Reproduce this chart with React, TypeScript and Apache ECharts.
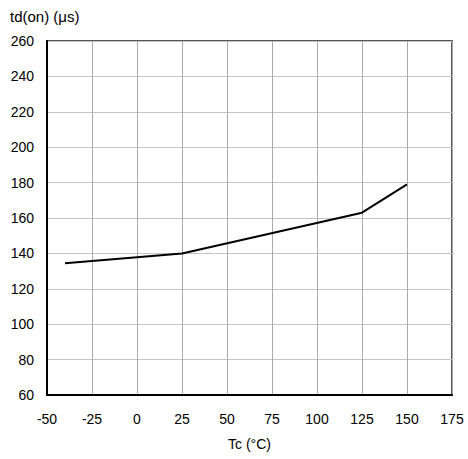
import React, { useEffect, useRef } from "react";
import * as echarts from "echarts";

const tempC = [-40, 25, 125, 150];
const tdOn = [134.5, 140, 163, 179];
const xTicks = [-50, -25, 0, 25, 50, 75, 100, 125, 150, 175];
const yTicks = [60, 80, 100, 120, 140, 160, 180, 200, 220, 240, 260];

const FONT = "'Liberation Sans', Arial, sans-serif";

export default function App() {
  const ref = useRef<HTMLDivElement>(null);
  useEffect(() => {
    if (!ref.current) return;
    const chart = echarts.init(ref.current, null, { renderer: "svg" });
    chart.setOption({
      animation: false,
      backgroundColor: "#fff",
      textStyle: { fontFamily: FONT },
      grid: {
        left: 47,
        right: 16,
        top: 41,
        bottom: 64,
        show: true,
        borderColor: "#555",
        borderWidth: 2,
        backgroundColor: "transparent",
      },
      graphic: [
        {
          type: "text",
          left: 10,
          top: 9,
          style: { text: "td(on) (μs)", fontSize: 15, fontFamily: FONT, fill: "#000" },
        },
      ],
      xAxis: {
        type: "value",
        min: xTicks[0],
        max: xTicks[xTicks.length - 1],
        interval: 25,
        name: "Tc (°C)",
        nameLocation: "middle",
        nameGap: 42,
        nameTextStyle: { fontSize: 14, color: "#000", fontFamily: FONT },
        axisLine: { show: true, onZero: false, lineStyle: { color: "#000", width: 2 } },
        axisTick: { show: false },
        axisLabel: { fontSize: 14, color: "#000", margin: 17, fontFamily: FONT },
        splitLine: { show: true, lineStyle: { color: "#aaa", width: 1 } },
      },
      yAxis: {
        type: "value",
        min: yTicks[0],
        max: yTicks[yTicks.length - 1],
        interval: 20,
        axisLine: { show: true, onZero: false, lineStyle: { color: "#000", width: 2 } },
        axisTick: { show: false },
        axisLabel: { fontSize: 14, color: "#000", margin: 13, fontFamily: FONT },
        splitLine: { show: true, lineStyle: { color: "#c4c4c4", width: 1 } },
      },
      series: [
        {
          type: "line",
          data: tempC.map((t, i) => [t, tdOn[i]]),
          symbol: "none",
          lineStyle: { color: "#000", width: 2 },
        },
      ],
    });
    return () => chart.dispose();
  }, []);
  return (
    <div
      ref={ref}
      style={{ position: "fixed", left: 0, top: 0, width: 468, height: 459 }}
    />
  );
}
